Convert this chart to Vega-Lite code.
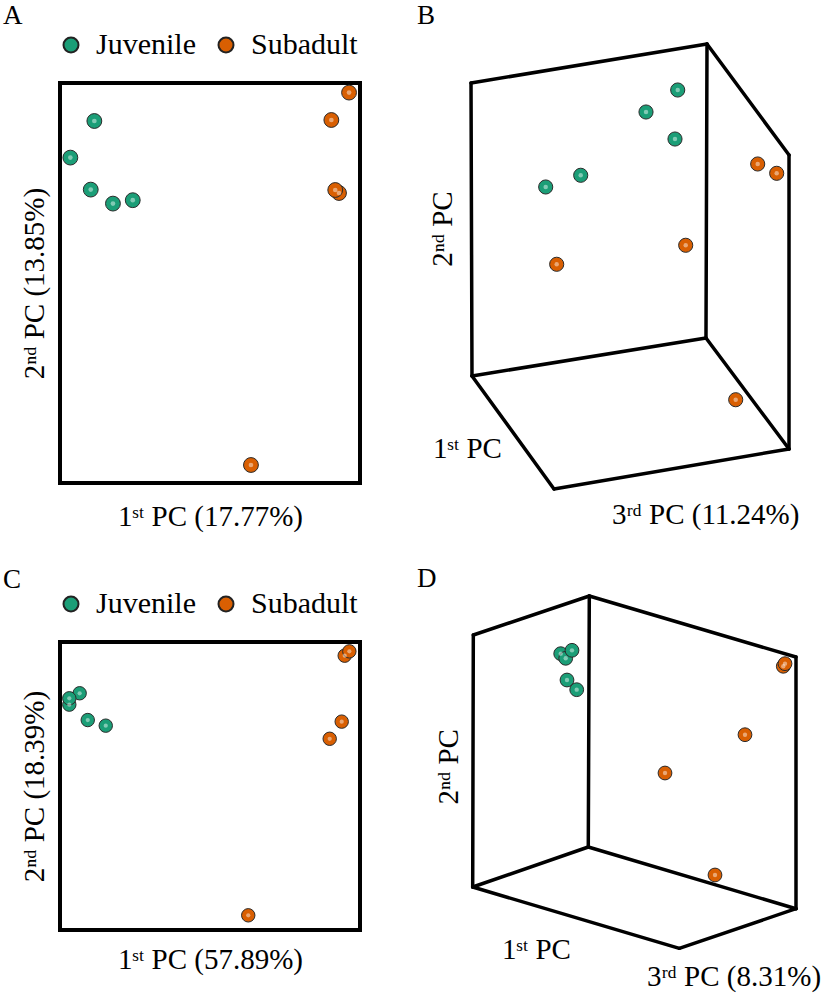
{
  "$schema": "https://vega.github.io/schema/vega-lite/v6.json",
  "autosize": {"type": "pad"},
  "padding": {"left": 1, "top": 0, "right": 0, "bottom": 0},
  "background": "white",
  "columns": 2,
  "spacing": {"row": 121, "column": 60},
  "align": "each",
  "bounds": "flush",
  "resolve": {
    "scale": {"color": "independent", "x": "independent", "y": "independent"},
    "legend": {"color": "independent"}
  },
  "config": {
    "view": {"stroke": null},
    "font": "Liberation Serif",
    "axis": {
      "domain": false, "ticks": false, "labels": false, "grid": false,
      "titleFont": "Liberation Serif, DejaVu Serif, serif", "titleFontSize": 29,
      "titleFontWeight": "normal", "titleColor": "#000"
    },
    "legend": {
      "labelFont": "Liberation Serif", "labelFontSize": 30, "labelColor": "#000",
      "symbolSize": 225, "symbolStrokeColor": "#222", "symbolStrokeWidth": 2,
      "symbolType": "circle", "symbolOpacity": 1, "labelOffset": 10, "columnPadding": 15,
      "padding": 0
    },
    "title": {
      "font": "Liberation Serif", "fontSize": 27, "fontWeight": "normal",
      "anchor": "start", "frame": "group", "color": "#000", "baseline": "alphabetic"
    }
  },
  "datasets": {
    "A": [
      {"pc1": -0.771, "pc2": 0.810, "group": "Juvenile"},
      {"pc1": -0.931, "pc2": 0.627, "group": "Juvenile"},
      {"pc1": -0.795, "pc2": 0.467, "group": "Juvenile"},
      {"pc1": -0.647, "pc2": 0.397, "group": "Juvenile"},
      {"pc1": -0.515, "pc2": 0.414, "group": "Juvenile"},
      {"pc1": 0.927, "pc2": 0.952, "group": "Subadult"},
      {"pc1": 0.809, "pc2": 0.815, "group": "Subadult"},
      {"pc1": 0.860, "pc2": 0.450, "group": "Subadult"},
      {"pc1": 0.835, "pc2": 0.465, "group": "Subadult"},
      {"pc1": 0.273, "pc2": -0.910, "group": "Subadult"}
    ],
    "C": [
      {"pc1": -0.869, "pc2": 0.644, "group": "Juvenile"},
      {"pc1": -0.938, "pc2": 0.565, "group": "Juvenile"},
      {"pc1": -0.938, "pc2": 0.609, "group": "Juvenile"},
      {"pc1": -0.815, "pc2": 0.458, "group": "Juvenile"},
      {"pc1": -0.695, "pc2": 0.419, "group": "Juvenile"},
      {"pc1": 0.898, "pc2": 0.905, "group": "Subadult"},
      {"pc1": 0.929, "pc2": 0.935, "group": "Subadult"},
      {"pc1": 0.878, "pc2": 0.447, "group": "Subadult"},
      {"pc1": 0.798, "pc2": 0.328, "group": "Subadult"},
      {"pc1": 0.255, "pc2": -0.898, "group": "Subadult"}
    ],
    "B": [
      {"u": 66.08, "v": 98.40, "group": "Juvenile"},
      {"u": 57.95, "v": 93.38, "group": "Juvenile"},
      {"u": 65.38, "v": 87.21, "group": "Juvenile"},
      {"u": 41.21, "v": 78.93, "group": "Juvenile"},
      {"u": 32.23, "v": 76.26, "group": "Juvenile"},
      {"u": 86.59, "v": 81.51, "group": "Subadult"},
      {"u": 91.46, "v": 79.38, "group": "Subadult"},
      {"u": 68.13, "v": 62.95, "group": "Subadult"},
      {"u": 35.05, "v": 58.61, "group": "Subadult"},
      {"u": 80.95, "v": 27.69, "group": "Subadult"}
    ],
    "D": [
      {"u": 36.08, "v": 96.68, "group": "Juvenile"},
      {"u": 37.36, "v": 95.37, "group": "Juvenile"},
      {"u": 38.97, "v": 97.64, "group": "Juvenile"},
      {"u": 37.69, "v": 89.20, "group": "Juvenile"},
      {"u": 40.18, "v": 86.45, "group": "Juvenile"},
      {"u": 93.15, "v": 93.10, "group": "Subadult"},
      {"u": 93.59, "v": 93.84, "group": "Subadult"},
      {"u": 83.33, "v": 73.66, "group": "Subadult"},
      {"u": 62.82, "v": 62.78, "group": "Subadult"},
      {"u": 75.64, "v": 33.81, "group": "Subadult"}
    ],
    "boxB": [
      {"u": 13.08, "v": 100.00, "u2": 73.59, "v2": 108.90},
      {"u": 73.59, "v": 108.90, "u2": 94.62, "v2": 83.56},
      {"u": 94.62, "v": 83.56, "u2": 94.62, "v2": 16.44},
      {"u": 13.08, "v": 100.00, "u2": 13.33, "v2": 33.11},
      {"u": 73.59, "v": 108.90, "u2": 73.33, "v2": 41.78},
      {"u": 73.33, "v": 41.78, "u2": 13.33, "v2": 33.11},
      {"u": 73.33, "v": 41.78, "u2": 94.62, "v2": 16.44},
      {"u": 13.33, "v": 33.11, "u2": 34.36, "v2": 7.31},
      {"u": 34.36, "v": 7.31, "u2": 94.62, "v2": 16.44}
    ],
    "boxD": [
      {"u": 13.67, "v": 101.99, "u2": 43.41, "v2": 113.07},
      {"u": 43.41, "v": 113.07, "u2": 96.41, "v2": 95.74},
      {"u": 96.41, "v": 95.74, "u2": 96.41, "v2": 24.23},
      {"u": 13.67, "v": 101.99, "u2": 13.51, "v2": 30.40},
      {"u": 43.41, "v": 113.07, "u2": 43.15, "v2": 41.76},
      {"u": 43.15, "v": 41.76, "u2": 13.51, "v2": 30.40},
      {"u": 43.15, "v": 41.76, "u2": 96.41, "v2": 24.23},
      {"u": 13.51, "v": 30.40, "u2": 66.49, "v2": 12.98},
      {"u": 66.49, "v": 12.98, "u2": 96.41, "v2": 24.23}
    ],
    "labB": [
      {"text": "2ⁿᵈ PC", "axis": "PC2", "u": 8.21, "v": 66.67},
      {"text": "1ˢᵗ PC", "axis": "PC1", "u": 3.33, "v": 14.38},
      {"text": "3ʳᵈ PC (11.24%)", "axis": "PC3", "u": 49.23, "v": -0.68}
    ],
    "labD": [
      {"text": "2ⁿᵈ PC", "axis": "PC2", "u": 9.74, "v": 64.55},
      {"text": "1ˢᵗ PC", "axis": "PC1", "u": 21.03, "v": 9.94},
      {"text": "3ʳᵈ PC (8.31%)", "axis": "PC3", "u": 58.21, "v": 2.3}
    ]
  },
  "concat": [
    {
      "width": 300, "height": 400,
      "view": {"stroke": "#000", "strokeWidth": 4},
      "title": {"text": "A", "dx": -57, "offset": 0},
      "data": {"name": "A"},
      "encoding": {
        "x": {"field": "pc1", "type": "quantitative", "scale": {"domain": [-1, 1], "nice": false, "zero": false}, "axis": {"title": "1ˢᵗ PC (17.77%)", "titlePadding": 19}},
        "y": {"field": "pc2", "type": "quantitative", "scale": {"domain": [-1, 1], "nice": false, "zero": false}, "axis": {"title": "2ⁿᵈ PC (13.85%)", "titlePadding": 11}}
      },
      "layer": [
        {
          "mark": {"type": "point", "filled": true, "size": 220, "stroke": "#2b2b2b", "strokeWidth": 1, "opacity": 1},
          "encoding": {
            "color": {"field": "group", "type": "nominal", "scale": {"domain": ["Juvenile", "Subadult"], "range": ["#1b9e77", "#d95f02"]}, "legend": {"orient": "none", "legendX": -4, "legendY": -53, "direction": "horizontal", "title": null}}
          }
        },
        {
          "mark": {"type": "point", "filled": true, "size": 22, "color": "#ffffff", "opacity": 0.45, "strokeWidth": 0}
        }
      ]
    },
    {
      "width": 390, "height": 438,
      "title": {"text": "B", "dx": -3, "offset": 12},
      "layer": [
        {
          "data": {"name": "boxB"},
          "mark": {"type": "rule", "strokeWidth": 3.5, "color": "#000", "strokeCap": "round"},
          "encoding": {
            "x": {"field": "u", "type": "quantitative", "scale": {"domain": [0, 100], "nice": false, "zero": false}, "axis": null},
            "y": {"field": "v", "type": "quantitative", "scale": {"domain": [0, 100], "nice": false, "zero": false}, "axis": null},
            "x2": {"field": "u2"},
            "y2": {"field": "v2"}
          }
        },
        {
          "data": {"name": "B"},
          "mark": {"type": "point", "filled": true, "size": 200, "stroke": "#2b2b2b", "strokeWidth": 1, "opacity": 1},
          "encoding": {
            "x": {"field": "u", "type": "quantitative", "axis": null},
            "y": {"field": "v", "type": "quantitative", "axis": null},
            "color": {"field": "group", "type": "nominal", "scale": {"domain": ["Juvenile", "Subadult"], "range": ["#1b9e77", "#d95f02"]}, "legend": null}
          }
        },
        {
          "data": {"name": "B"},
          "mark": {"type": "point", "filled": true, "size": 20, "color": "#ffffff", "opacity": 0.45, "strokeWidth": 0},
          "encoding": {
            "x": {"field": "u", "type": "quantitative", "axis": null},
            "y": {"field": "v", "type": "quantitative", "axis": null}
          }
        },
        {
          "data": {"name": "labB"},
          "transform": [{"filter": "datum.axis !== 'PC2'"}],
          "mark": {"type": "text", "align": "left", "baseline": "alphabetic", "font": "Liberation Serif, DejaVu Serif, serif", "fontSize": 29, "color": "#000"},
          "encoding": {
            "x": {"field": "u", "type": "quantitative", "axis": null},
            "y": {"field": "v", "type": "quantitative", "axis": null},
            "text": {"field": "text"}
          }
        },
        {
          "data": {"name": "labB"},
          "transform": [{"filter": "datum.axis === 'PC2'"}],
          "mark": {"type": "text", "align": "center", "baseline": "alphabetic", "angle": 270, "font": "Liberation Serif, DejaVu Serif, serif", "fontSize": 29, "color": "#000"},
          "encoding": {
            "x": {"field": "u", "type": "quantitative", "axis": null},
            "y": {"field": "v", "type": "quantitative", "axis": null},
            "text": {"field": "text"}
          }
        }
      ]
    },
    {
      "width": 300, "height": 288,
      "view": {"stroke": "#000", "strokeWidth": 4},
      "title": {"text": "C", "dx": -57, "offset": -5},
      "data": {"name": "C"},
      "encoding": {
        "x": {"field": "pc1", "type": "quantitative", "scale": {"domain": [-1, 1], "nice": false, "zero": false}, "axis": {"title": "1ˢᵗ PC (57.89%)", "titlePadding": 15}},
        "y": {"field": "pc2", "type": "quantitative", "scale": {"domain": [-1, 1], "nice": false, "zero": false}, "axis": {"title": "2ⁿᵈ PC (18.39%)", "titlePadding": 11}}
      },
      "layer": [
        {
          "mark": {"type": "point", "filled": true, "size": 180, "stroke": "#2b2b2b", "strokeWidth": 1, "opacity": 1},
          "encoding": {
            "color": {"field": "group", "type": "nominal", "scale": {"domain": ["Juvenile", "Subadult"], "range": ["#1b9e77", "#d95f02"]}, "legend": {"orient": "none", "legendX": -4, "legendY": -53, "direction": "horizontal", "title": null}}
          }
        },
        {
          "mark": {"type": "point", "filled": true, "size": 18, "color": "#ffffff", "opacity": 0.45, "strokeWidth": 0}
        }
      ]
    },
    {
      "width": 390, "height": 352,
      "title": {"text": "D", "dx": -3, "offset": 1},
      "layer": [
        {
          "data": {"name": "boxD"},
          "mark": {"type": "rule", "strokeWidth": 3.5, "color": "#000", "strokeCap": "round"},
          "encoding": {
            "x": {"field": "u", "type": "quantitative", "scale": {"domain": [0, 100], "nice": false, "zero": false}, "axis": null},
            "y": {"field": "v", "type": "quantitative", "scale": {"domain": [0, 100], "nice": false, "zero": false}, "axis": null},
            "x2": {"field": "u2"},
            "y2": {"field": "v2"}
          }
        },
        {
          "data": {"name": "D"},
          "mark": {"type": "point", "filled": true, "size": 190, "stroke": "#2b2b2b", "strokeWidth": 1, "opacity": 1},
          "encoding": {
            "x": {"field": "u", "type": "quantitative", "axis": null},
            "y": {"field": "v", "type": "quantitative", "axis": null},
            "color": {"field": "group", "type": "nominal", "scale": {"domain": ["Juvenile", "Subadult"], "range": ["#1b9e77", "#d95f02"]}, "legend": null}
          }
        },
        {
          "data": {"name": "D"},
          "mark": {"type": "point", "filled": true, "size": 19, "color": "#ffffff", "opacity": 0.45, "strokeWidth": 0},
          "encoding": {
            "x": {"field": "u", "type": "quantitative", "axis": null},
            "y": {"field": "v", "type": "quantitative", "axis": null}
          }
        },
        {
          "data": {"name": "labD"},
          "transform": [{"filter": "datum.axis !== 'PC2'"}],
          "mark": {"type": "text", "align": "left", "baseline": "alphabetic", "font": "Liberation Serif, DejaVu Serif, serif", "fontSize": 29, "color": "#000"},
          "encoding": {
            "x": {"field": "u", "type": "quantitative", "axis": null},
            "y": {"field": "v", "type": "quantitative", "axis": null},
            "text": {"field": "text"}
          }
        },
        {
          "data": {"name": "labD"},
          "transform": [{"filter": "datum.axis === 'PC2'"}],
          "mark": {"type": "text", "align": "center", "baseline": "alphabetic", "angle": 270, "font": "Liberation Serif, DejaVu Serif, serif", "fontSize": 29, "color": "#000"},
          "encoding": {
            "x": {"field": "u", "type": "quantitative", "axis": null},
            "y": {"field": "v", "type": "quantitative", "axis": null},
            "text": {"field": "text"}
          }
        }
      ]
    }
  ]
}
